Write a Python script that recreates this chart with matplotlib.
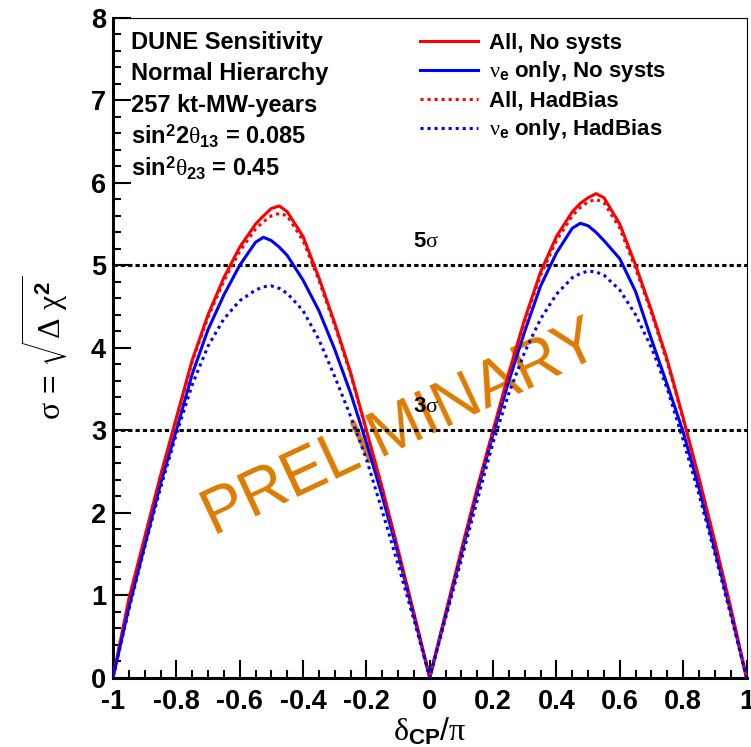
import matplotlib
matplotlib.use('Agg')
import matplotlib.pyplot as plt
from matplotlib.ticker import MultipleLocator

plt.rcParams['font.family'] = 'Liberation Sans'
plt.rcParams['font.weight'] = 'bold'
plt.rcParams['mathtext.fontset'] = 'custom'
plt.rcParams['mathtext.rm'] = 'Liberation Serif:weight=normal'
plt.rcParams['mathtext.it'] = 'Liberation Serif:weight=normal'
plt.rcParams['mathtext.bf'] = 'Liberation Sans:bold'

# --- Data ---
delta_cp = [-1, -0.95, -0.9, -0.85, -0.8, -0.75, -0.7, -0.65, -0.6, -0.55, -0.525,
            -0.5, -0.475, -0.45, -0.4, -0.35, -0.3, -0.25, -0.2, -0.15, -0.1, -0.05,
            0, 0.05, 0.1, 0.15, 0.2, 0.25, 0.3, 0.35, 0.4, 0.45, 0.475, 0.5, 0.525,
            0.55, 0.6, 0.65, 0.7, 0.75, 0.8, 0.85, 0.9, 0.95, 1]

all_nosyst = [0, 0.95, 1.7, 2.45, 3.15, 3.85, 4.4, 4.85, 5.22, 5.5, 5.6,
              5.69, 5.72, 5.65, 5.35, 4.85, 4.3, 3.7, 3.0, 2.3, 1.55, 0.78,
              0, 0.78, 1.55, 2.3, 3.0, 3.7, 4.35, 4.92, 5.35, 5.65, 5.75, 5.82, 5.87,
              5.82, 5.5, 5.0, 4.45, 3.85, 3.15, 2.42, 1.65, 0.85, 0]

nue_nosyst = [0, 0.85, 1.6, 2.35, 3.0, 3.68, 4.22, 4.64, 5.0, 5.28, 5.34,
              5.3, 5.22, 5.12, 4.82, 4.45, 3.98, 3.45, 2.85, 2.2, 1.5, 0.75,
              0, 0.75, 1.5, 2.25, 2.95, 3.6, 4.2, 4.75, 5.15, 5.45, 5.51, 5.48, 5.4,
              5.3, 5.08, 4.68, 4.1, 3.55, 2.98, 2.3, 1.55, 0.8, 0]

all_hadbias = [0, 0.94, 1.69, 2.44, 3.13, 3.83, 4.37, 4.81, 5.17, 5.44, 5.53,
               5.6, 5.63, 5.6, 5.3, 4.82, 4.27, 3.68, 2.99, 2.29, 1.54, 0.77,
               0, 0.77, 1.54, 2.29, 2.99, 3.68, 4.32, 4.88, 5.3, 5.6, 5.7, 5.77, 5.8,
               5.76, 5.45, 4.96, 4.42, 3.82, 3.13, 2.41, 1.64, 0.84, 0]

nue_hadbias = [0, 0.82, 1.58, 2.3, 2.95, 3.55, 4.02, 4.35, 4.57, 4.7, 4.74,
               4.75, 4.72, 4.66, 4.45, 4.1, 3.65, 3.17, 2.65, 2.02, 1.37, 0.7,
               0, 0.72, 1.43, 2.15, 2.85, 3.45, 3.95, 4.35, 4.65, 4.85, 4.9, 4.93, 4.92,
               4.88, 4.7, 4.4, 4.0, 3.5, 2.88, 2.22, 1.5, 0.76, 0]

sigma_levels = [3, 5]
info_lines = ['DUNE Sensitivity', 'Normal Hierarchy', '257 kt-MW-years',
              r'sin$^{\mathbf{2}}$2$\theta_{\mathbf{13}}$ = 0.085',
              r'sin$^{\mathbf{2}}$$\theta_{\mathbf{23}}$ = 0.45']

# --- Plot ---
fig = plt.figure(figsize=(7.51, 7.47), dpi=100)
ax = fig.add_axes([113 / 751, 69.5 / 747, 633.5 / 751, 659.5 / 747])

lw = 2.2
dot = (0, (1.0, 1.3))
ax.plot(delta_cp, all_nosyst, color='red', lw=lw, label='All, No systs', zorder=3)
ax.plot(delta_cp, nue_nosyst, color='blue', lw=lw,
        label=r'$\nu_{\mathbf{e}}$ only, No systs', zorder=3)
ax.plot(delta_cp, all_hadbias, color='red', lw=lw, ls=dot, label='All, HadBias', zorder=3)
ax.plot(delta_cp, nue_hadbias, color='blue', lw=lw, ls=dot,
        label=r'$\nu_{\mathbf{e}}$ only, HadBias', zorder=3)

for s in sigma_levels:
    ax.axhline(s, color='black', lw=2.2, ls=(0, (1.4, 1.0)), zorder=2)
    ax.text(-0.052, s + 0.29, f'{s}' + r'$\sigma$', fontsize=16, va='center', ha='left', zorder=2)

ax.text(-0.09, 3.03, 'PRELIMINARY', rotation=25, rotation_mode='anchor',
        ha='center', va='center', fontsize=46, fontweight='normal',
        color='#DD7B00', zorder=1.5)

for i, line in enumerate(info_lines):
    ax.text(0.028, 0.9636 - i * 0.0478, line, transform=ax.transAxes,
            fontsize=17, va='center', ha='left')

ax.set_xlim(-1, 1)
ax.set_ylim(0, 8)
ax.xaxis.set_minor_locator(MultipleLocator(0.05))
ax.yaxis.set_major_locator(MultipleLocator(1))
ax.yaxis.set_minor_locator(MultipleLocator(0.2))
ax.set_xticks([-1, -0.8, -0.6, -0.4, -0.2, 0, 0.2, 0.4, 0.6, 0.8, 1])
ax.set_xticklabels(['-1', '-0.8', '-0.6', '-0.4', '-0.2', '0', '0.2', '0.4', '0.6', '0.8', '1'])
ax.tick_params(which='both', direction='in', top=False, right=False, width=1.5)
ax.tick_params(which='major', length=13, labelsize=19.5)
ax.tick_params(axis='x', which='major', pad=8)
ax.tick_params(axis='y', which='major', pad=5)
ax.tick_params(which='minor', length=6)

for side in ['left', 'bottom']:
    ax.spines[side].set_linewidth(2.2)
for side in ['top', 'right']:
    ax.spines[side].set_linewidth(0.8)

ax.set_xlabel(r'$\delta_{\mathbf{CP}}$/$\pi$', fontsize=23, labelpad=1)
ax.set_ylabel(r'$\sigma$ = $\sqrt{\Delta\ \chi^{\mathbf{2}}}$', fontsize=23)
ax.yaxis.set_label_coords(-0.068, 0.5)

ax.legend(loc='upper left', bbox_to_anchor=(420 / 751, 1 - 32.5 / 747),
          bbox_transform=fig.transFigure, frameon=False, fontsize=16,
          handlelength=2.6, handletextpad=0.5, labelspacing=0.27,
          borderpad=0, borderaxespad=0)

fig.savefig('out.png', dpi=100)
